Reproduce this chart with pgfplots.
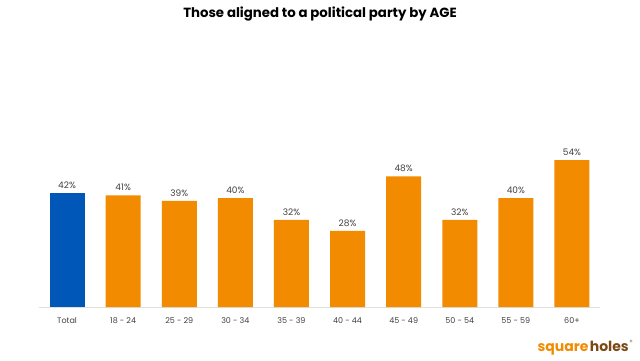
\documentclass[border=0pt]{standalone}
\usepackage{pgfplots}
\pgfplotsset{compat=1.18}
\usepackage{fontspec}
\setmainfont{Poppins}
\definecolor{barblue}{HTML}{0057B8}
\definecolor{barorange}{HTML}{F28B00}
\definecolor{logobrown}{HTML}{7A4A12}
\definecolor{txtgray}{HTML}{404040}
\begin{document}
\begin{tikzpicture}[x=1pt,y=1pt]
\path[use as bounding box] (0,0) rectangle (640,360);
\node[font=\bfseries\fontsize{13.3}{15}\selectfont, anchor=center] at (320,346) {Those aligned to a political party by AGE};
\begin{axis}[
  at={(39pt,53pt)}, anchor=south west,
  scale only axis, width=561pt, height=163.2pt,
  xmin=-0.5, xmax=9.5, ymin=0, ymax=60,
  axis line style={draw=none},
  axis x line*=bottom, axis y line=none,
  xtick={0,1,2,3,4,5,6,7,8,9},
  xticklabels={Total,18 - 24,25 - 29,30 - 34,35 - 39,40 - 44,45 - 49,50 - 54,55 - 59,60+},
  xticklabel style={font=\fontsize{8}{9}\selectfont, text=txtgray, yshift=-7pt},
  /pgf/number format/assume math mode=true,
  major tick length=0pt,
  ybar, bar width=35pt, bar shift=0pt,
  nodes near coords={\pgfmathprintnumber{\pgfplotspointmeta}\%},
  nodes near coords style={font=\fontsize{9}{10}\selectfont, text=txtgray, yshift=1pt},
  clip=false,
]
\draw[gray!25, line width=0.8pt] (axis cs:-0.5,0) -- (axis cs:9.5,0);
\addplot[fill=barblue, draw=none] coordinates {(0,42)};
\addplot[fill=barorange, draw=none] coordinates {(1,41)(2,39)(3,40)(4,32)(5,28)(6,48)(7,32)(8,40)(9,54)};
\end{axis}
\node[anchor=east, font=\bfseries\fontsize{14}{15}\selectfont, inner sep=0pt] at (629,12) {\textcolor{barorange}{square}\hspace{1.5pt}\textcolor{logobrown}{holes}};
\node[anchor=west, font=\fontsize{6}{7}\selectfont, text=logobrown, inner sep=0pt] at (629.5,18) {®};
\end{tikzpicture}
\end{document}
